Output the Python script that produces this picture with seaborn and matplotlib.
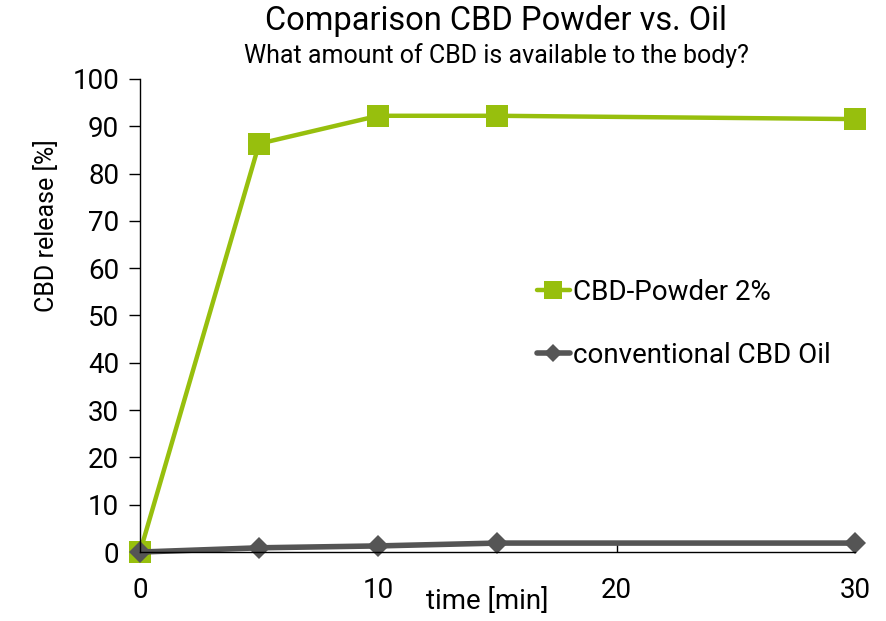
import pandas as pd
import seaborn as sns
import matplotlib.pyplot as plt

# values
time_min = [0, 5, 10, 15, 30]
powder = [0, 86.3, 92.2, 92.2, 91.5]
oil = [0, 0.9, 1.3, 1.9, 1.9]

sns.set_theme(style="white")
plt.rcParams['font.family'] = ['Roboto', 'DejaVu Sans']

green = "#97bf0d"
grey = "#555555"

df = pd.DataFrame({
    "time": time_min * 2,
    "release": powder + oil,
    "series": ["CBD-Powder 2%"] * 5 + ["conventional CBD Oil"] * 5,
})

fig = plt.figure(figsize=(8.86, 6.21), dpi=100)
ax = fig.add_axes([0.158, 0.111, 0.807, 0.762])

sns.lineplot(data=df[df.series == "CBD-Powder 2%"], x="time", y="release",
             color=green, marker="s", markersize=16, markeredgewidth=0,
             linewidth=3.2, label="CBD-Powder 2%", ax=ax)
sns.lineplot(data=df[df.series == "conventional CBD Oil"], x="time", y="release",
             color=grey, marker="D", markersize=11, markeredgewidth=0,
             linewidth=4, label="conventional CBD Oil", ax=ax)

ax.set_xlim(0, 30)
ax.set_ylim(0, 100)
ax.set_xticks([0, 10, 20, 30])
ax.set_yticks(range(0, 101, 10))
ax.tick_params(axis="y", direction="out", length=8, width=1, color="black",
               labelsize=20, left=True, pad=7)
ax.tick_params(axis="x", direction="in", length=8, width=1, color="black",
               labelsize=20, bottom=True, pad=18)
for s in ["top", "right"]:
    ax.spines[s].set_visible(False)
for s in ["left", "bottom"]:
    ax.spines[s].set_color("black")
    ax.spines[s].set_linewidth(1)
for lab in ax.get_xticklabels() + ax.get_yticklabels():
    lab.set_color("black")
for line in ax.lines:
    line.set_clip_on(False)

ax.set_xlabel("time [min]", fontsize=20, color="black")
ax.xaxis.set_label_coords(0.485, -0.076)
ax.set_ylabel("CBD release [%]", fontsize=18, color="black")
ax.yaxis.set_label_coords(-0.113, 0.69)

leg = ax.legend(loc="upper left", bbox_to_anchor=(0.52, 0.63), frameon=False,
                fontsize=20, handlelength=1.2, handletextpad=0.1,
                labelspacing=1.3, markerscale=0.8)
for t in leg.get_texts():
    t.set_color("black")

fig.text(0.56, 0.966, "Comparison CBD Powder vs. Oil", ha="center", va="center",
         fontsize=23.5, color="black")
fig.text(0.56, 0.91, "What amount of CBD is available to the body?", ha="center",
         va="center", fontsize=18, color="black")

fig.savefig("out.png", dpi=100)
